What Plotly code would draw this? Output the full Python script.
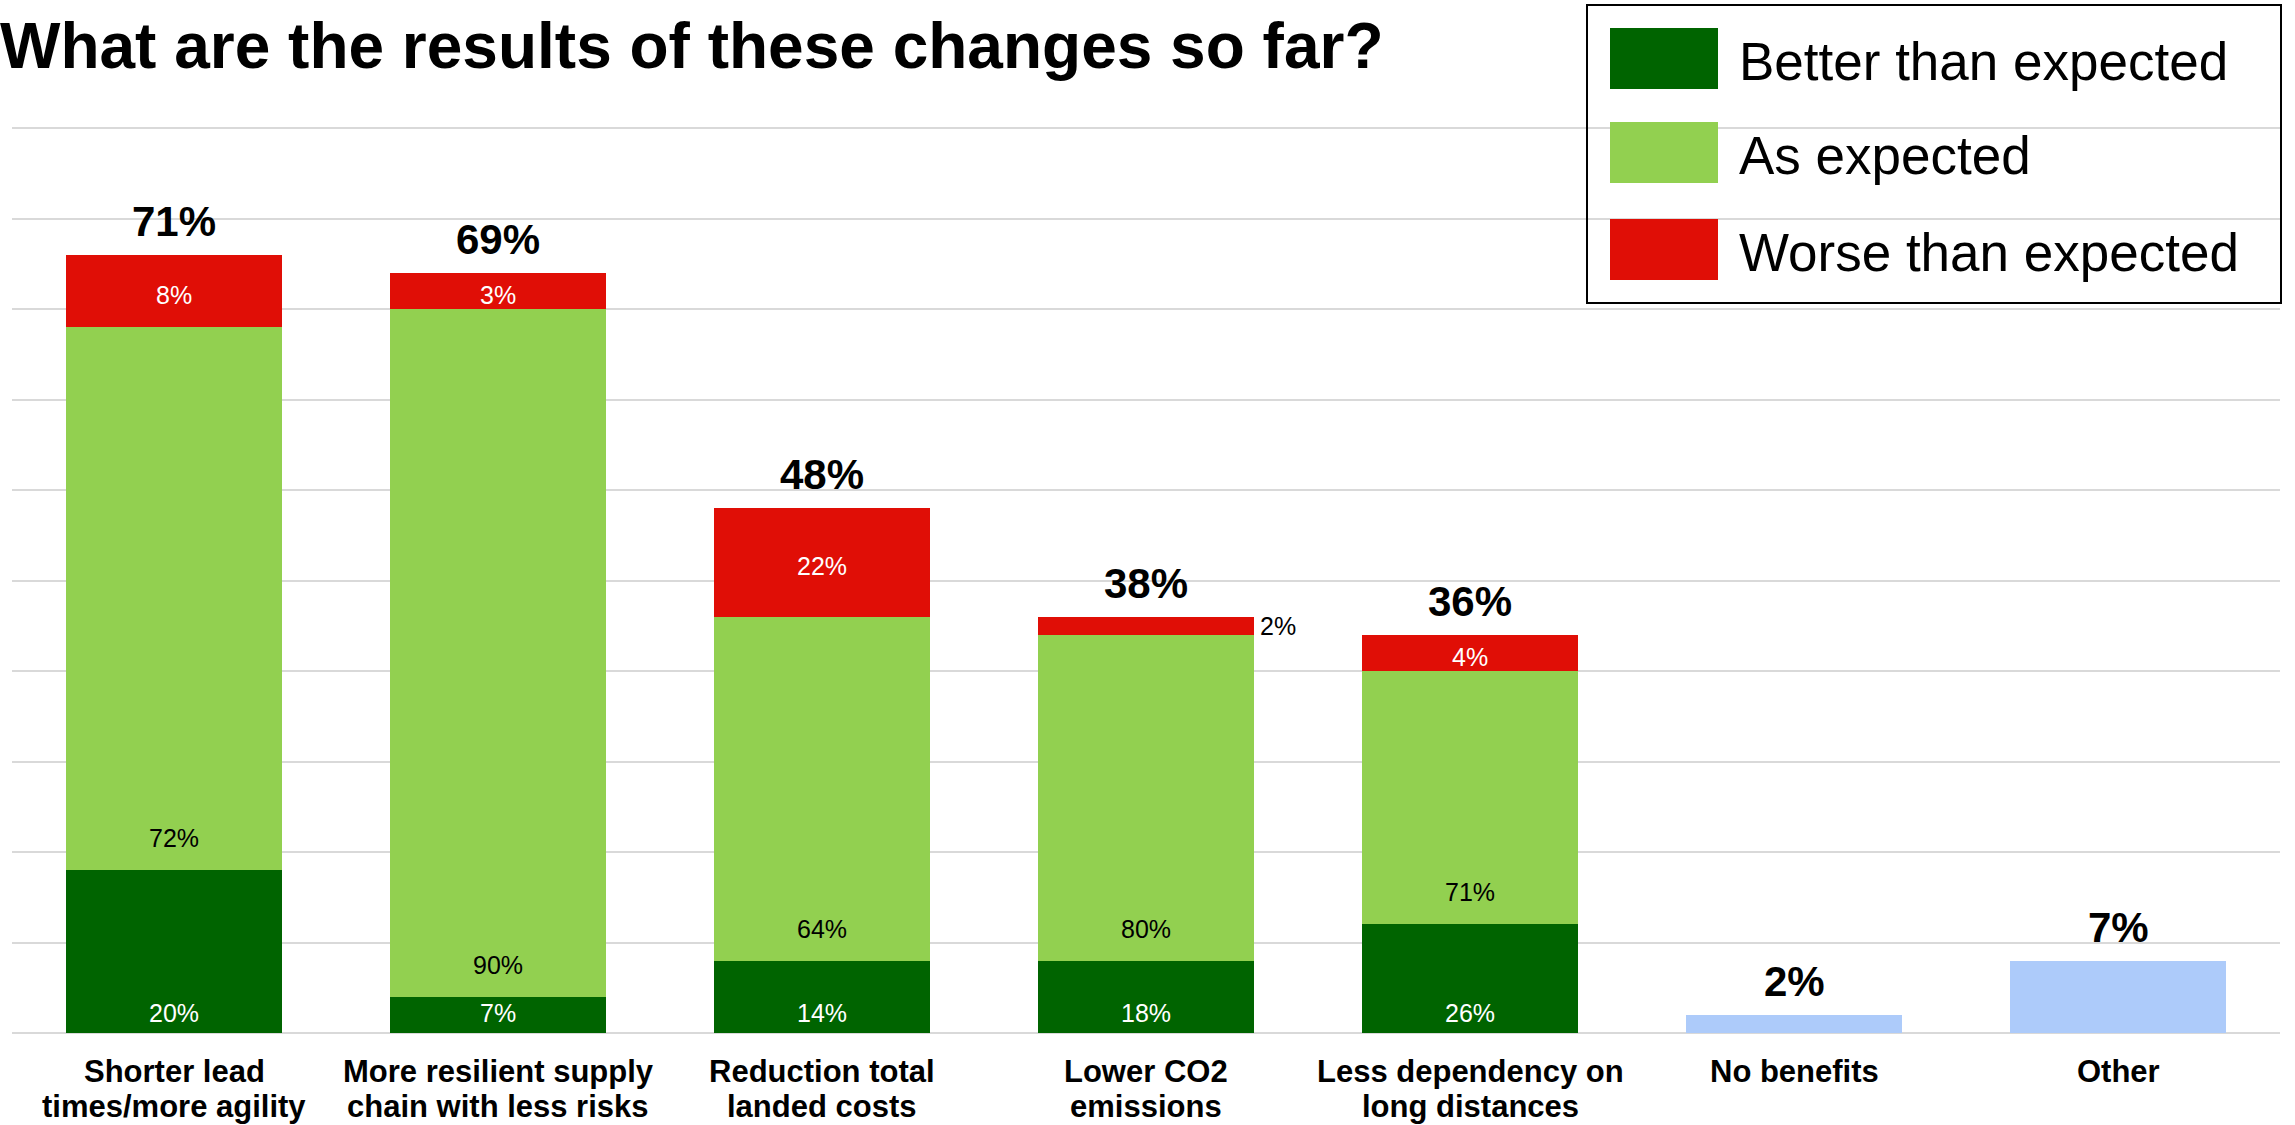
import plotly.graph_objects as go

# ---------------- data ----------------
categories = [
    "Shorter lead<br>times/more agility",
    "More resilient supply<br>chain with less risks",
    "Reduction total<br>landed costs",
    "Lower CO2<br>emissions",
    "Less dependency on<br>long distances",
    "No benefits",
    "Other",
]
series_names = ["Better than expected", "As expected", "Worse than expected"]

# bar segment heights as drawn (respondents)
better_n = [18, 4, 8, 8, 12, None, None]
as_n = [60, 76, 38, 36, 28, None, None]
worse_n = [8, 4, 12, 2, 4, None, None]
single_n = [None, None, None, None, None, 2, 8]

# labels printed on the chart
total_pct = ["71%", "69%", "48%", "38%", "36%", "2%", "7%"]
better_pct = ["20%", "7%", "14%", "18%", "26%"]
as_pct = ["72%", "90%", "64%", "80%", "71%"]
worse_pct = ["8%", "3%", "22%", "2%", "4%"]

# ---------------- styling ----------------
FONT = "Liberation Sans, Arial, sans-serif"
C_DARK = "#006400"
C_LIGHT = "#92D050"
C_RED = "#E00E06"
C_BLUE = "#ADCBFA"
GRID = "#D9D9D9"

W, H = 2295, 1125
L, R, T, B = 12, 15, 125, 92
PW, PH = W - L - R, H - T - B
Y_TOP = 100 + 3 / 9.05


def px_x(x):
    return (x - L) / PW


def px_y(y):
    return (H - B - y) / PH


fig = go.Figure()
fig.add_trace(go.Bar(x=categories, y=better_n, name=series_names[0],
                     marker=dict(color=C_DARK, line=dict(width=0)), showlegend=False))
fig.add_trace(go.Bar(x=categories, y=as_n, name=series_names[1],
                     marker=dict(color=C_LIGHT, line=dict(width=0)), showlegend=False))
fig.add_trace(go.Bar(x=categories, y=worse_n, name=series_names[2],
                     marker=dict(color=C_RED, line=dict(width=0)), showlegend=False))
fig.add_trace(go.Bar(x=categories, y=single_n, name="Single",
                     marker=dict(color=C_BLUE, line=dict(width=0)), showlegend=False))

annotations = []
# category labels (two lines, tight spacing as in the reference)
for cat in categories:
    for k, part in enumerate(cat.split("<br>")):
        annotations.append(dict(x=cat, y=0, xref="x", yref="y", text=part,
                                showarrow=False, yanchor="middle", yshift=-(38 + 35 * k),
                                font=dict(family=FONT, size=31, color="black", weight="bold")))
# totals
for i, cat in enumerate(categories):
    if better_n[i] is not None:
        top = better_n[i] + as_n[i] + worse_n[i]
    else:
        top = single_n[i]
    annotations.append(dict(x=cat, y=top, xref="x", yref="y", text=total_pct[i],
                            showarrow=False, yanchor="bottom", yshift=8,
                            font=dict(family=FONT, size=42, color="black", weight="bold")))
# segment labels
for i in range(len(better_pct)):
    cat = categories[i]
    annotations.append(dict(x=cat, y=0, text=better_pct[i], showarrow=False,
                            yanchor="bottom", yshift=4,
                            font=dict(family=FONT, size=25, color="white")))
    annotations.append(dict(x=cat, y=better_n[i], text=as_pct[i], showarrow=False,
                            yanchor="bottom", yshift=16,
                            font=dict(family=FONT, size=25, color="black")))
    mid = better_n[i] + as_n[i] + worse_n[i] / 2
    if worse_n[i] >= 3:
        annotations.append(dict(x=cat, y=mid, text=worse_pct[i], showarrow=False,
                                yanchor="middle", yshift=-4,
                                font=dict(family=FONT, size=25, color="white")))
    else:
        annotations.append(dict(x=cat, y=mid, text=worse_pct[i], showarrow=False,
                                yanchor="middle", xanchor="left", xshift=112,
                                font=dict(family=FONT, size=25, color="black")))

# custom legend
shapes = [dict(type="rect", xref="paper", yref="paper",
               x0=px_x(1587), x1=px_x(2281), y0=px_y(303), y1=px_y(5),
               line=dict(color="black", width=2), fillcolor="rgba(0,0,0,0)")]
sw_rows = [(28, 89), (122, 183), (219, 280)]
sw_cols = [C_DARK, C_LIGHT, C_RED]
for (y0, y1), col, name in zip(sw_rows, sw_cols, series_names):
    shapes.append(dict(type="rect", xref="paper", yref="paper",
                       x0=px_x(1610), x1=px_x(1718), y0=px_y(y1), y1=px_y(y0),
                       line=dict(width=0), fillcolor=col))
    annotations.append(dict(xref="paper", yref="paper", x=px_x(1737), y=px_y((y0 + y1) / 2 + 3),
                            text=name, showarrow=False, xanchor="left", yanchor="middle",
                            font=dict(family=FONT, size=53, color="black")))

fig.update_layout(
    width=W, height=H,
    margin=dict(l=L, r=R, t=T, b=B, pad=0, autoexpand=False),
    paper_bgcolor="white", plot_bgcolor="white",
    barmode="stack", bargap=0.331,
    title=dict(text="What are the results of these changes so far?",
               x=0, xref="container", xanchor="left",
               y=1 - 46 / H, yref="container", yanchor="middle",
               pad=dict(l=0, r=0, t=0, b=0),
               font=dict(family=FONT, size=64, color="black", weight="bold")),
    xaxis=dict(type="category", showline=False, ticks="", showgrid=False,
               automargin=False, showticklabels=False),
    yaxis=dict(range=[0, Y_TOP], dtick=10, showticklabels=False, showgrid=True,
               automargin=False,
               gridcolor=GRID, gridwidth=2, zeroline=True, zerolinecolor=GRID,
               zerolinewidth=2, showline=False, ticks=""),
    shapes=shapes,
    annotations=annotations,
    showlegend=False,
)

fig.write_html("out.html", config={"displayModeBar": False},
               post_script="document.body.style.margin='0';")
